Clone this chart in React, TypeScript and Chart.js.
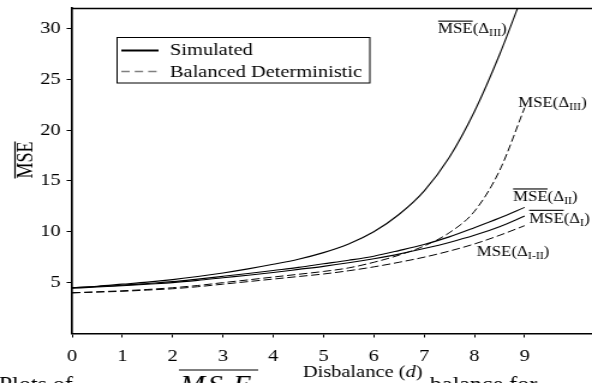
import React, { useEffect, useRef } from "react";
import { Chart, registerables } from "chart.js";

Chart.register(...registerables);

// ---- data ----
const dGrid = [0, 0.5, 1, 1.5, 2, 2.5, 3, 3.5, 4, 4.5, 5, 5.5, 6, 6.5, 7, 7.5, 8, 8.5, 9];
const simDeltaIII = [4.5, 4.65, 4.85, 5.05, 5.3, 5.6, 5.95, 6.35, 6.8, 7.3, 7.95, 8.8, 10.0, 11.7, 14.0, 17.3, 21.8, 27.4, 33.8];
const simDeltaII = [4.5, 4.62, 4.75, 4.92, 5.1, 5.35, 5.62, 5.9, 6.2, 6.5, 6.85, 7.2, 7.6, 8.15, 8.75, 9.5, 10.4, 11.35, 12.4];
const simDeltaI = [4.45, 4.57, 4.7, 4.85, 5.0, 5.22, 5.48, 5.73, 6.0, 6.3, 6.6, 6.95, 7.35, 7.8, 8.35, 8.95, 9.65, 10.5, 11.55];
const detDeltaIII = [4.0, 4.1, 4.2, 4.33, 4.5, 4.72, 5.0, 5.27, 5.55, 5.82, 6.1, 6.45, 7.0, 7.7, 8.6, 9.9, 12.0, 16.0, 22.2];
const detDeltaIandII = [4.0, 4.07, 4.15, 4.27, 4.4, 4.6, 4.85, 5.1, 5.35, 5.6, 5.85, 6.17, 6.55, 7.0, 7.5, 8.1, 8.8, 9.65, 10.6];

const xTickValues = [0, 1, 2, 3, 4, 5, 6, 7, 8, 9];
const yTickValues = [5, 10, 15, 20, 25, 30];
const legendLabels = ["Simulated", "Balanced Deterministic"];
const xAxisTitle = "Disbalance (";
const xAxisTitleVar = "d";
const yAxisTitle = "MSE";
const captionStart = "Plots of";
const captionEnd = "balance for";

// curve labels: [d, value, subscript, overlined]
const curveLabels: [number, number, string, boolean][] = [
  [7.28, 29.5, "III", true],
  [8.87, 22.3, "III", false],
  [8.77, 13.0, "II", true],
  [9.09, 10.9, "I", true],
  [8.05, 7.6, "I-II", false],
];

const W = 493;
const H = 383;
const SERIF = '"Liberation Serif", "Times New Roman", serif';

function pts(vals: number[]) {
  return dGrid.map((d, i) => ({ x: d, y: vals[i] }));
}

const annotPlugin = {
  id: "annot",
  afterDraw(chart: any) {
    const { ctx, chartArea, scales } = chart;
    const xs = scales.x;
    const ys = scales.y;
    ctx.save();
    ctx.fillStyle = "#000";
    ctx.strokeStyle = "#000";

    // top border line
    ctx.lineWidth = 1.3;
    ctx.beginPath();
    ctx.moveTo(chartArea.left, chartArea.top + 0.5);
    ctx.lineTo(W, chartArea.top + 0.5);
    ctx.stroke();

    // legend box
    ctx.lineWidth = 1;
    ctx.strokeRect(97.5, 37.5, 210.5, 45.5);
    ctx.lineWidth = 2;
    ctx.beginPath();
    ctx.moveTo(101, 50.5);
    ctx.lineTo(132, 50.5);
    ctx.stroke();
    ctx.strokeStyle = "#808080";
    ctx.lineWidth = 1.3;
    ctx.setLineDash([7, 4.2]);
    ctx.beginPath();
    ctx.moveTo(101, 71.5);
    ctx.lineTo(132, 71.5);
    ctx.stroke();
    ctx.setLineDash([]);
    ctx.strokeStyle = "#000";
    ctx.font = `17px ${SERIF}`;
    ctx.textBaseline = "alphabetic";
    ctx.textAlign = "left";
    ctx.fillText(legendLabels[0], 141.5, 55);
    ctx.fillText(legendLabels[1], 141.5, 76.5);

    // curve labels
    for (const [d, v, sub, over] of curveLabels) {
      const x = xs.getPixelForValue(d);
      const y = ys.getPixelForValue(v);
      ctx.font = `14px ${SERIF}`;
      ctx.fillText("MSE", x, y);
      const wM = ctx.measureText("MSE").width;
      if (over) {
        ctx.lineWidth = 1.1;
        ctx.beginPath();
        ctx.moveTo(x, y - 12.3);
        ctx.lineTo(x + wM, y - 12.3);
        ctx.stroke();
      }
      let cx = x + wM;
      ctx.fillText("(\u0394", cx, y);
      cx += ctx.measureText("(\u0394").width;
      ctx.font = `10px ${SERIF}`;
      ctx.fillText(sub, cx, y + 3);
      cx += ctx.measureText(sub).width;
      ctx.font = `14px ${SERIF}`;
      ctx.fillText(")", cx, y);
    }

    // y-axis title (rotated, overlined)
    ctx.save();
    ctx.translate(27, 160);
    ctx.rotate(-Math.PI / 2);
    ctx.font = `18px ${SERIF}`;
    ctx.textAlign = "center";
    ctx.fillText(yAxisTitle, 0, 0);
    const wy = ctx.measureText(yAxisTitle).width;
    ctx.lineWidth = 1.2;
    ctx.beginPath();
    ctx.moveTo(-wy / 2, -14.5);
    ctx.lineTo(wy / 2, -14.5);
    ctx.stroke();
    ctx.restore();

    // caption (cut off at the bottom)
    ctx.font = `20px ${SERIF}`;
    ctx.textAlign = "left";
    ctx.fillText(captionStart, -1, 391);
    ctx.fillText(captionEnd, 358, 391);
    ctx.font = `italic 25px ${SERIF}`;
    const mx = [150, 173, 194];
    "MSE".split("").forEach((c, i) => ctx.fillText(c, mx[i], 393));
    ctx.lineWidth = 1.2;
    ctx.beginPath();
    ctx.moveTo(149, 370);
    ctx.lineTo(215, 370);
    ctx.stroke();

    // x-axis title
    ctx.font = `17px ${SERIF}`;
    const w1 = ctx.measureText(xAxisTitle).width;
    ctx.font = `italic 17px ${SERIF}`;
    const w2 = ctx.measureText(xAxisTitleVar).width;
    ctx.font = `17px ${SERIF}`;
    const w3 = ctx.measureText(")").width;
    const total = w1 + w2 + w3;
    let tx = 302 - total / 2;
    const ty = 377;
    ctx.fillText(xAxisTitle, tx, ty);
    tx += w1;
    ctx.font = `italic 17px ${SERIF}`;
    ctx.fillText(xAxisTitleVar, tx, ty);
    tx += w2;
    ctx.font = `17px ${SERIF}`;
    ctx.fillText(")", tx, ty);

    ctx.restore();
  },
};

export default function App() {
  const ref = useRef<HTMLCanvasElement | null>(null);

  useEffect(() => {
    if (!ref.current) return;
    document.body.style.margin = "0";
    const solid = (vals: number[]) => ({
      data: pts(vals),
      borderColor: "#000",
      borderWidth: 1.1,
      pointRadius: 0,
      cubicInterpolationMode: "monotone" as const,
      fill: false,
    });
    const dashed = (vals: number[]) => ({
      ...solid(vals),
      borderWidth: 1,
      borderDash: [7, 3],
    });
    const chart = new Chart(ref.current, {
      type: "line",
      data: {
        datasets: [
          { label: "sim III", ...solid(simDeltaIII) },
          { label: "sim II", ...solid(simDeltaII) },
          { label: "sim I", ...solid(simDeltaI) },
          { label: "det III", ...dashed(detDeltaIII) },
          { label: "det I-II", ...dashed(detDeltaIandII) },
        ],
      },
      options: {
        animation: false,
        responsive: false,
        devicePixelRatio: 1,
        layout: { padding: { top: 8, right: 0, left: 0, bottom: 0 } },
        plugins: { legend: { display: false }, tooltip: { enabled: false } },
        scales: {
          x: {
            type: "linear",
            min: 0,
            max: 10.34,
            afterBuildTicks: (s: any) => {
              s.ticks = xTickValues.map((v) => ({ value: v }));
            },
            afterFit: (s: any) => {
              s.height = 49.5;
              s.paddingLeft = 0;
              s.paddingRight = 0;
            },
            ticks: {
              font: { family: SERIF, size: 17 },
              color: "#000",
              padding: 9,
              maxRotation: 0,
              autoSkip: false,
            },
            grid: {
              drawOnChartArea: false,
              drawTicks: true,
              tickLength: 4,
              tickColor: "#000",
              tickWidth: 1,
            },
            border: { display: true, color: "#000", width: 1.5 },
          },
          y: {
            type: "linear",
            min: 0,
            max: 32,
            afterBuildTicks: (s: any) => {
              s.ticks = yTickValues.map((v) => ({ value: v }));
            },
            afterFit: (s: any) => {
              s.width = 60;
              s.paddingTop = 0;
              s.paddingBottom = 0;
            },
            ticks: {
              font: { family: SERIF, size: 17 },
              color: "#000",
              padding: 5,
              autoSkip: false,
            },
            grid: {
              drawOnChartArea: false,
              drawTicks: true,
              tickLength: 4.5,
              tickColor: "#000",
              tickWidth: 1,
            },
            border: { display: true, color: "#000", width: 1.7 },
          },
        },
      },
      plugins: [annotPlugin],
    });
    return () => chart.destroy();
  }, []);

  return (
    <div style={{ position: "fixed", left: 0, top: 0, width: 592, height: 383, overflow: "hidden", background: "#fff" }}>
      <canvas
        ref={ref}
        width={W}
        height={H}
        style={{ width: "592px", height: "383px", display: "block" }}
      />
    </div>
  );
}
